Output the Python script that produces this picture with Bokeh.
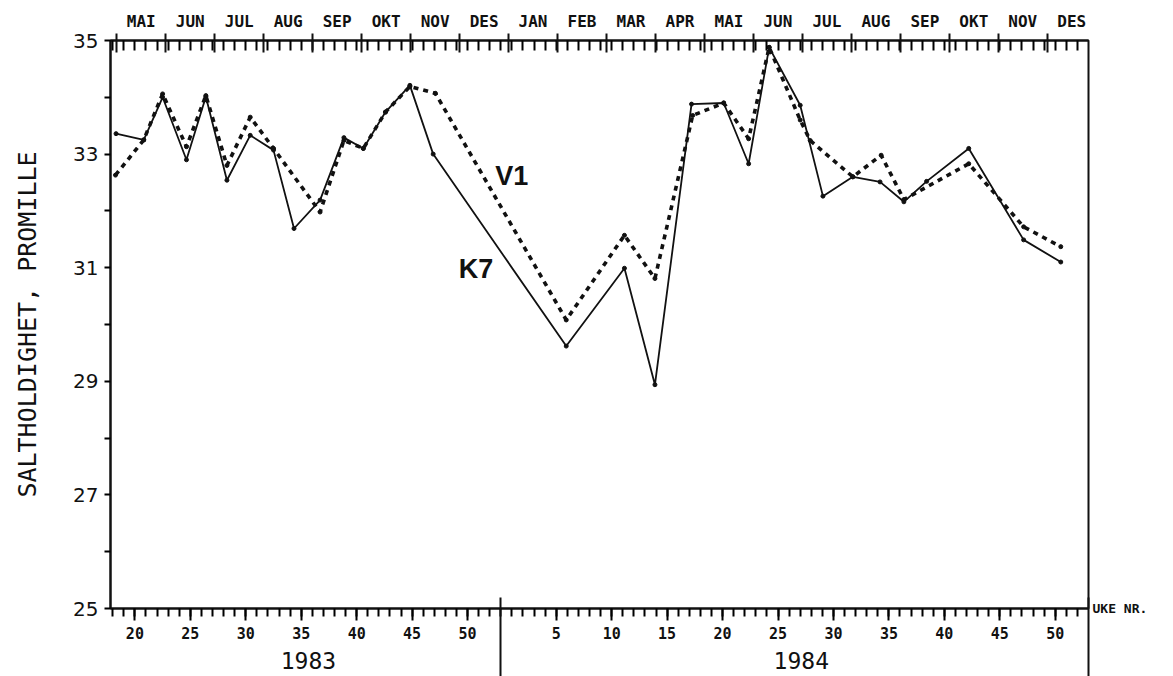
from bokeh.plotting import figure
from bokeh.models import LinearAxis, FixedTicker, Range1d
from bokeh.embed import file_html
from bokeh.resources import INLINE
from bokeh.core.properties import value

# ---------------- data (week numbers; 1984 weeks are shifted by one year) ----------------
YEAR2_OFFSET = 53  # continuous week axis: 1983 week w -> w, 1984 week w -> 53 + w

k7_weeks_1983 = [18.3, 20.8, 22.5, 24.65, 26.4, 28.3, 30.4, 32.5, 34.35, 36.7, 38.85, 40.6, 42.6, 44.8, 46.9]
k7_sal_1983 = [33.36, 33.25, 34.0, 32.9, 34.01, 32.54, 33.33, 33.07, 31.69, 32.19, 33.29, 33.1, 33.74, 34.21, 33.0]
k7_weeks_1984 = [5.9, 11.15, 13.9, 17.2, 20.1, 22.35, 24.2, 27.0, 29.05, 31.75, 34.2, 36.35, 38.4, 42.2, 47.15, 50.5]
k7_sal_1984 = [29.62, 30.99, 28.94, 33.88, 33.9, 32.83, 34.88, 33.86, 32.26, 32.6, 32.51, 32.16, 32.52, 33.1, 31.49, 31.1]

v1_weeks_1983 = [18.25, 20.8, 22.5, 24.65, 26.4, 28.3, 30.4, 32.5, 36.7, 38.85, 40.6, 42.6, 44.8, 47.1]
v1_sal_1983 = [32.63, 33.25, 34.06, 33.13, 34.03, 32.8, 33.65, 33.1, 31.98, 33.24, 33.1, 33.74, 34.19, 34.07]
v1_weeks_1984 = [5.9, 11.15, 13.9, 17.3, 20.1, 22.35, 24.2, 27.0, 27.9, 31.75, 34.3, 36.35, 42.2, 47.15, 50.5]
v1_sal_1984 = [30.08, 31.57, 30.81, 33.68, 33.9, 33.27, 34.88, 33.6, 33.24, 32.6, 32.98, 32.2, 32.83, 31.72, 31.37]

series_names = ["K7", "V1"]

month_names = ["MAI", "JUN", "JUL", "AUG", "SEP", "OKT", "NOV", "DES", "JAN", "FEB",
               "MAR", "APR", "MAI", "JUN", "JUL", "AUG", "SEP", "OKT", "NOV", "DES"]
first_month_index = 4  # May 1983 (0 = January 1983)

week_labels_1983 = [20, 25, 30, 35, 40, 45, 50]
week_labels_1984 = [5, 10, 15, 20, 25, 30, 35, 40, 45, 50]
year_labels = ["1983", "1984"]

sal_labels = [25, 27, 29, 31, 33, 35]
sal_minor = [26, 28, 30, 32, 34]

# ---------------- derived ----------------
k7_x = k7_weeks_1983 + [YEAR2_OFFSET + w for w in k7_weeks_1984]
k7_y = k7_sal_1983 + k7_sal_1984
v1_x = v1_weeks_1983 + [YEAR2_OFFSET + w for w in v1_weeks_1984]
v1_y = v1_sal_1983 + v1_sal_1984

X0, X1 = 17.8, 106.0
month_len = 53.0 / 12.0
month_bounds = [round(0.7 + m * month_len, 3) for m in range(first_month_index, first_month_index + len(month_names) + 1)]
month_bounds = [b for b in month_bounds if X0 <= b <= X1]
month_centers = [round(0.7 + (first_month_index + i + 0.5) * month_len, 3) for i in range(len(month_names))]
week_ticks = list(range(18, 106))

wk_pos = week_labels_1983 + [YEAR2_OFFSET + w for w in week_labels_1984]
wk_txt = [str(w) for w in week_labels_1983 + week_labels_1984]
year_pos = [35.65, 80.1]

BLACK = "#111111"

p = figure(width=1173, height=676, x_range=Range1d(X0, X1), y_range=Range1d(25, 35),
           output_backend="svg", toolbar_location=None,
           x_axis_location=None, y_axis_location=None)
p.min_border_left = 110
p.min_border_right = 85
p.min_border_top = 40
p.min_border_bottom = 67
p.grid.visible = False
p.outline_line_color = BLACK
p.outline_line_width = 2
p.background_fill_color = "white"
p.border_fill_color = "white"

# left axis
yax = LinearAxis(ticker=FixedTicker(ticks=sal_labels, minor_ticks=sal_minor))
yax.axis_line_width = 2
yax.axis_line_color = BLACK
yax.major_tick_in = 0
yax.major_tick_out = 6
yax.minor_tick_in = 0
yax.minor_tick_out = 6
yax.major_tick_line_width = 2
yax.minor_tick_line_width = 2
yax.major_label_text_font = "DejaVu Sans"
yax.major_label_text_font_size = "20px"
yax.major_label_text_color = BLACK
yax.major_label_standoff = 6
yax.axis_label = "SALTHOLDIGHET, PROMILLE"
yax.axis_label_text_font = "DejaVu Sans Mono"
yax.axis_label_text_font_style = "normal"
yax.axis_label_text_font_size = "25px"
yax.axis_label_text_color = BLACK
yax.axis_label_standoff = 28
p.add_layout(yax, "left")

# top axis (inner): weekly ticks pointing into the plot
topA = LinearAxis(ticker=FixedTicker(ticks=[], minor_ticks=week_ticks))
topA.axis_line_width = 2
topA.axis_line_color = BLACK
topA.minor_tick_in = 10
topA.minor_tick_out = 0
topA.major_tick_in = 0
topA.major_tick_out = 0
topA.minor_tick_line_width = 2
topA.major_label_standoff = 0
p.add_layout(topA, "above")

# top axis (outer): month names, month boundary ticks
topB = LinearAxis(ticker=FixedTicker(ticks=month_centers, minor_ticks=month_bounds))
topB.major_label_overrides = {c: n for c, n in zip(month_centers, month_names)}
topB.axis_line_color = None
topB.major_tick_line_color = None
topB.major_tick_in = 0
topB.major_tick_out = 0
topB.minor_tick_line_color = BLACK
topB.minor_tick_line_width = 2
topB.minor_tick_in = 12
topB.minor_tick_out = 7
topB.major_label_standoff = 3
topB.major_label_text_font = "DejaVu Sans Mono"
topB.major_label_text_font_style = "bold"
topB.major_label_text_font_size = "16px"
topB.major_label_text_color = BLACK
p.add_layout(topB, "above")

# bottom axis: week numbers
botC = LinearAxis(ticker=FixedTicker(ticks=wk_pos, minor_ticks=week_ticks))
botC.major_label_overrides = {x: t for x, t in zip(wk_pos, wk_txt)}
botC.axis_line_width = 2
botC.axis_line_color = BLACK
botC.major_tick_in = 0
botC.major_tick_out = 12
botC.minor_tick_in = 0
botC.minor_tick_out = 8
botC.major_tick_line_width = 2
botC.minor_tick_line_width = 2
botC.major_label_standoff = 6
botC.major_label_text_font = "DejaVu Sans Mono"
botC.major_label_text_font_style = "bold"
botC.major_label_text_font_size = "15px"
botC.major_label_text_color = BLACK
p.add_layout(botC, "below")

# bottom axis: years
botD = LinearAxis(ticker=FixedTicker(ticks=year_pos, minor_ticks=[]))
botD.major_label_overrides = {x: t for x, t in zip(year_pos, year_labels)}
botD.axis_line_color = None
botD.major_tick_line_color = None
botD.major_tick_in = 0
botD.major_tick_out = 0
botD.major_label_standoff = 10
botD.major_label_text_font = "DejaVu Sans Mono"
botD.major_label_text_font_size = "23px"
botD.major_label_text_color = BLACK
p.add_layout(botD, "below")

# bottom-most axis: year divider and right edge extension (ticks only)
botE = LinearAxis(ticker=FixedTicker(ticks=[], minor_ticks=[YEAR2_OFFSET, X1 - 0.02]))
botE.axis_line_color = None
botE.major_tick_line_color = None
botE.minor_tick_line_color = BLACK
botE.minor_tick_line_width = 2
botE.minor_tick_in = 74
botE.minor_tick_out = 5
botE.major_label_standoff = 0
p.add_layout(botE, "below")

# right axis: unit text
rax = LinearAxis(ticker=FixedTicker(ticks=[25], minor_ticks=[]))
rax.major_label_overrides = {25: "UKE NR."}
rax.axis_line_color = None
rax.major_tick_line_color = None
rax.major_tick_in = 0
rax.major_tick_out = 0
rax.major_label_standoff = 4
rax.major_label_text_baseline = "top"
rax.major_label_text_font = "DejaVu Sans Mono"
rax.major_label_text_font_style = "bold"
rax.major_label_text_font_size = "13px"
rax.major_label_text_color = BLACK
p.add_layout(rax, "right")

# data
p.line(k7_x, k7_y, line_color=BLACK, line_width=1.8)
p.scatter(k7_x, k7_y, size=4, color=BLACK)
p.line(v1_x, v1_y, line_color=BLACK, line_width=3.6, line_dash="5 5")
p.scatter(v1_x, v1_y, size=4, color=BLACK)

# series names
p.text(x=[49.2, 52.5], y=[30.98, 32.61], text=series_names,
       text_font=value("Liberation Sans"), text_font_style="bold",
       text_font_size="27px", text_color=BLACK,
       text_align="left", text_baseline="middle")

open("out.html", "w").write(file_html(p, INLINE))
